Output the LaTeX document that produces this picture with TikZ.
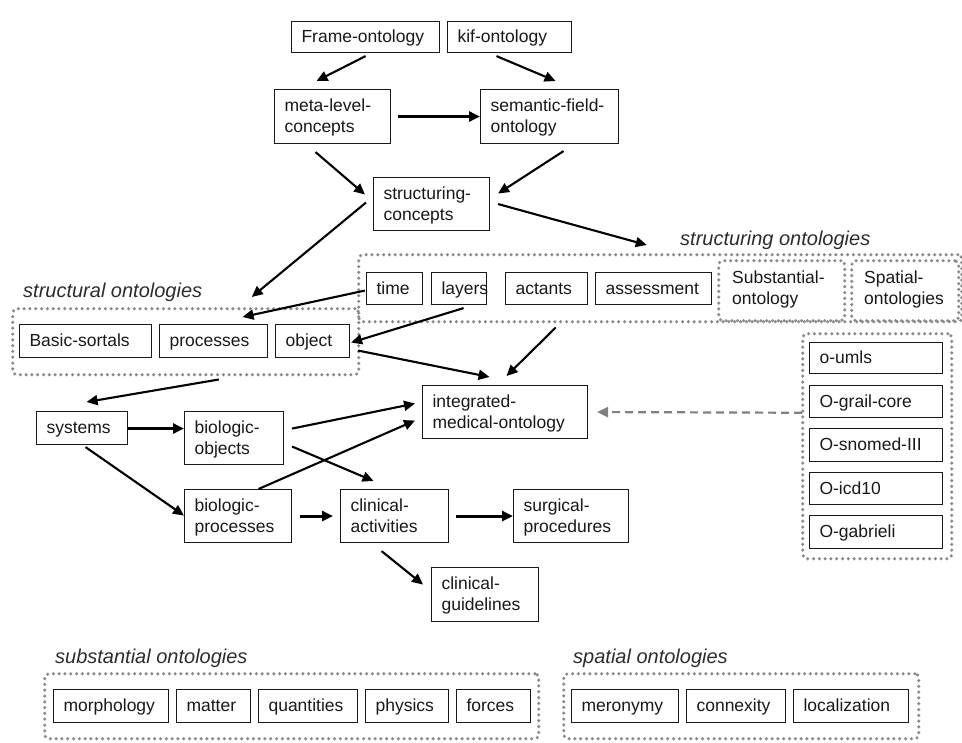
\documentclass[tikz,border=0pt]{standalone}
\usepackage{fontspec}
\setmainfont{Liberation Sans}
\usetikzlibrary{calc,arrows.meta}
\exhyphenpenalty=10000
\hyphenpenalty=10000
\definecolor{dotc}{RGB}{140,140,140}
\definecolor{txt}{RGB}{25,25,25}
\definecolor{lbl}{RGB}{45,45,45}
\definecolor{dashc}{RGB}{128,128,128}
\newcommand\mystrut{\vrule height 16pt depth 5pt width 0pt}
\tikzset{
  box/.style={draw=txt, line width=1.1pt, fill=white, text=txt, font=\fontsize{17.5}{21}\selectfont, align=left, inner xsep=10pt, inner ysep=0pt, anchor=north west},
  grp/.style={draw=dotc, line width=3.5pt, dash pattern=on 0pt off 5.8pt, line cap=round, rounded corners=4pt, inner sep=0pt, anchor=north west},
  glabel/.style={font=\fontsize{20}{22}\selectfont\itshape, text=lbl, anchor=base west, inner sep=0pt},
  intext/.style={font=\fontsize{17.5}{21}\selectfont, text=txt, align=left, anchor=west, inner sep=0pt},
  arr/.style={-{Triangle[length=11pt,width=10pt]}, line width=2.1pt, draw=black},
  tarr/.style={-{Triangle[length=11pt,width=10pt]}, line width=3pt, draw=black},
  darr/.style={-{Triangle[length=11pt,width=10pt]}, line width=2.2pt, draw=dashc, dash pattern=on 8pt off 5pt}
}
\newcommand\mybox[6]{\pgfmathsetmacro\bxw{#4-#2-20}\pgfmathsetmacro\bxh{#5-#3}\node[box, text width=\bxw pt, minimum height=\bxh pt] (#1) at (#2,#3) {\mystrut#6\mystrut};}
\newcommand\mygrp[5]{\pgfmathsetmacro\bxw{#4-#2}\pgfmathsetmacro\bxh{#5-#3}\node[grp, minimum width=\bxw pt, minimum height=\bxh pt] (#1) at (#2,#3) {};}
\begin{document}
\begin{tikzpicture}[x=1pt,y=-1pt]
\useasboundingbox (0,0) rectangle (962,743);
\fill[white] (0,0) rectangle (962,743);

% groups
\mygrp{gsting}{357}{253}{960}{320}
\mygrp{gsubo}{717}{259}{843}{319}
\mygrp{gspao}{850}{259}{957}{319}
\mygrp{gstal}{11}{307}{357}{373}
\mygrp{gum}{801}{332}{950}{557}
\mygrp{gsub}{43}{672}{537}{737}
\mygrp{gspa}{562}{672}{917}{737}

% group labels
\node[glabel] (lsting) at (680,246) {structuring ontologies};
\node[glabel] (lstal) at (23,298) {structural ontologies};
\node[glabel] (lsub) at (55,663) {substantial ontologies};
\node[glabel] (lspa) at (573,663) {spatial ontologies};
\node[intext] (tsubo) at (732,289) {Substantial-\\ontology};
\node[intext] (tspao) at (864,289) {Spatial-\\ontologies};

% top boxes
\mybox{fo}{291}{21}{439}{52}{Frame-ontology}
\mybox{kif}{447}{21}{571}{52}{kif-ontology}
\mybox{meta}{274}{89}{390}{143}{meta-level-\\concepts}
\mybox{sem}{480}{89}{618}{143}{semantic-field-\\ontology}
\mybox{sc}{373}{177}{489}{230}{structuring-\\concepts}

% structuring ontologies
\mybox{time}{366}{272}{422}{304}{time}
\mybox{layers}{431}{272}{486}{304}{layers}
\mybox{actants}{505}{272}{587}{304}{actants}
\mybox{assess}{595}{272}{711}{304}{assessment}

% structural ontologies
\mybox{basic}{19}{324}{151}{357}{Basic-sortals}
\mybox{proc}{159}{324}{267}{357}{processes}
\mybox{obj}{275}{324}{349}{357}{object}

% right column
\mybox{umls}{809}{342}{942}{373}{o-umls}
\mybox{grail}{809}{385}{942}{417}{O-grail-core}
\mybox{snomed}{809}{428}{942}{461}{O-snomed-III}
\mybox{icd}{809}{472}{942}{504}{O-icd10}
\mybox{gab}{809}{515}{942}{548}{O-gabrieli}

% middle
\mybox{imo}{422}{385}{587}{438}{integrated-\\medical-ontology}
\mybox{sys}{36}{411}{127}{444}{systems}
\mybox{bo}{184}{411}{283}{464}{biologic-\\objects}
\mybox{bp}{184}{489}{291}{542}{biologic-\\processes}
\mybox{ca}{340}{489}{448}{542}{clinical-\\activities}
\mybox{sp}{513}{489}{628}{542}{surgical-\\procedures}
\mybox{cg}{431}{567}{538}{621}{clinical-\\guidelines}

% bottom
\mybox{morph}{53}{689}{168}{722}{morphology}
\mybox{matter}{176}{689}{250}{722}{matter}
\mybox{quant}{258}{689}{357}{722}{quantities}
\mybox{phys}{365}{689}{448}{722}{physics}
\mybox{forces}{456}{689}{530}{722}{forces}
\mybox{mero}{571}{689}{678}{722}{meronymy}
\mybox{conn}{686}{689}{785}{722}{connexity}
\mybox{loc}{793}{689}{908}{722}{localization}

% arrows
\draw[arr] ($(fo.south)+(0,3)$) -- ($(meta.north)+(-16,-8)$);
\draw[arr] ($(kif.south)+(-13,3)$) -- ($(sem.north)+(6,-8)$);
\draw[tarr] ($(meta.east)+(7,0)$) -- (sem.west);
\draw[arr] ($(meta.south)+(-17,8)$) -- ($(sc.west)+(-8,-9.5)$);
\draw[arr] ($(sem.south)+(14,7)$) -- ($(sc.east)+(8,-10.5)$);
\draw[arr] ($(sc.east)+(8,0)$) -- ($(gsting.north)+(-13.5,-8)$);
\draw[arr] ($(sc.west)+(-7,-1.5)$) -- ($(gstal.north)+(66,-10)$);
\draw[arr] ($(time.west)+(-1,2)$) -- ($(proc.north)+(29,-7)$);
\draw[arr] ($(layers.south)+(4.5,3)$) -- ($(obj.east)+(1,1.5)$);
\draw[arr] ($(obj.east)+(8,9.5)$) -- ($(imo.north)+(-15.5,-8)$);
\draw[arr] ($(gsting.south)+(-104.5,4)$) -- ($(imo.north)+(1.5,-9)$);
\draw[arr] ($(gstal.south)+(33,3)$) -- ($(sys.north)+(4.5,-9)$);
\draw[tarr] ($(sys.east)+(0,0.5)$) -- ($(bo.west)+(0,-9.5)$);
\draw[arr] ($(sys.south)+(3.5,2)$) -- ($(bp.west)+(0,-0.5)$);
\draw[arr] ($(bo.east)+(8,-9.5)$) -- ($(imo.west)+(-7,-8.5)$);
\draw[arr] ($(bo.east)+(8,8.5)$) -- ($(ca.north)+(-21,-8)$);
\draw[arr] ($(bp.north)+(20.5,0)$) -- ($(imo.west)+(-7,8.5)$);
\draw[tarr] ($(bp.east)+(8,0)$) -- ($(ca.west)+(-7,0)$);
\draw[tarr] ($(ca.east)+(7,0)$) -- (sp.west);
\draw[arr] ($(ca.south)+(-13,8)$) -- ($(cg.west)+(-8,-10)$);
\draw[darr] ($(gum.west)+(1,-33.5)$) -- ($(imo.east)+(9,0)$);
\end{tikzpicture}
\end{document}
